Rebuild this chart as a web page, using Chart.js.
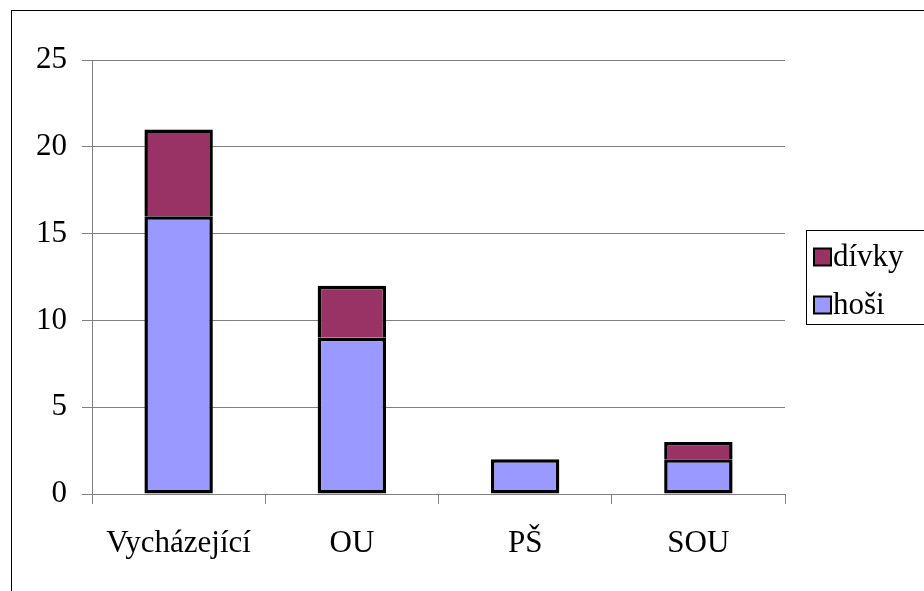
<!DOCTYPE html>
<html>
<head>
<meta charset="utf-8">
<script src="https://cdn.jsdelivr.net/npm/chart.js@4.4.0/dist/chart.umd.min.js"></script>
<style>
  body { margin: 0; background: #fff; }
  #caixa { width: 924px; height: 591px; position: relative; }
</style>
</head>
<body>
<div id="caixa"><canvas id="grafico"></canvas></div>
<script>
// dados do grafico
var categorias = ['Vycházející', 'OU', 'PŠ', 'SOU'];
var hosi = [16, 9, 2, 2];
var divky = [5, 3, 0, 1];
var ticksY = [0, 5, 10, 15, 20, 25];

var fonte = "'Liberation Serif', 'Times New Roman', Times, serif";
Chart.defaults.font.family = fonte;
Chart.defaults.font.size = 31;
Chart.defaults.color = '#000';

// moldura em volta do grafico
const moldura = {
    id: 'moldura',
    afterDraw(chart) {
        const ctx = chart.ctx;
        ctx.save();
        ctx.strokeStyle = '#000';
        ctx.lineWidth = 1;
        ctx.strokeRect(11.5, 10.5, 2000, 2000);
        ctx.restore();
    }
};

// legenda com borda, desenhada a direita da area do grafico
const legendaBorda = {
    id: 'legendaBorda',
    afterDraw(chart) {
        const ctx = chart.ctx;
        const area = chart.chartArea;
        const itens = chart.data.datasets.slice().reverse();
        const esq = area.right + 21;
        const larg = 200; // a borda direita fica fora da imagem
        const alt = 94;
        const topo = (area.top + area.bottom) / 2 - alt / 2;
        ctx.save();
        ctx.strokeStyle = '#000';
        ctx.lineWidth = 1;
        ctx.strokeRect(Math.round(esq) + 0.5, Math.round(topo) + 0.5, larg, alt);
        ctx.font = '31px ' + fonte;
        ctx.textBaseline = 'middle';
        for (let i = 0; i < itens.length; i++) {
            const cy = topo + 27 + i * 48;
            ctx.fillStyle = itens[i].backgroundColor;
            ctx.fillRect(esq + 8, cy - 8.5, 17, 17);
            ctx.strokeStyle = '#000';
            ctx.lineWidth = 2;
            ctx.strokeRect(esq + 8, cy - 8.5, 17, 17);
            ctx.fillStyle = '#000';
            ctx.fillText(itens[i].label, esq + 27, cy + 1);
        }
        ctx.restore();
    }
};

const config = {
    type: 'bar',
    data: {
        labels: categorias,
        datasets: [
            {
                label: 'hoši',
                data: hosi,
                backgroundColor: '#9999FF',
                borderColor: '#000',
                borderWidth: 3.5,
                borderSkipped: false
            },
            {
                label: 'dívky',
                data: divky,
                backgroundColor: '#993366',
                borderColor: '#000',
                borderWidth: 3.5,
                borderSkipped: 'start'
            }
        ]
    },
    options: {
        responsive: true,
        maintainAspectRatio: false,
        animation: false,
        categoryPercentage: 1,
        barPercentage: 0.395,
        layout: { padding: { left: 12, top: 60, right: 139, bottom: 0 } },
        plugins: {
            legend: { display: false },
            tooltip: { enabled: false }
        },
        scales: {
            x: {
                stacked: true,
                afterFit(s) { s.height = 97; },
                grid: { drawOnChartArea: false, drawTicks: true, tickLength: 10, color: '#808080' },
                border: { color: '#808080' },
                ticks: { padding: 21 }
            },
            y: {
                stacked: true,
                min: 0,
                max: 25,
                afterFit(s) { s.width = 80; },
                afterBuildTicks(s) { s.ticks = ticksY.map(v => ({ value: v })); },
                grid: { color: '#808080', tickLength: 10 },
                border: { color: '#808080' },
                ticks: { padding: 15 }
            }
        }
    },
    plugins: [moldura, legendaBorda]
};

var grafico = new Chart(document.getElementById('grafico'), config);
</script>
</body>
</html>
